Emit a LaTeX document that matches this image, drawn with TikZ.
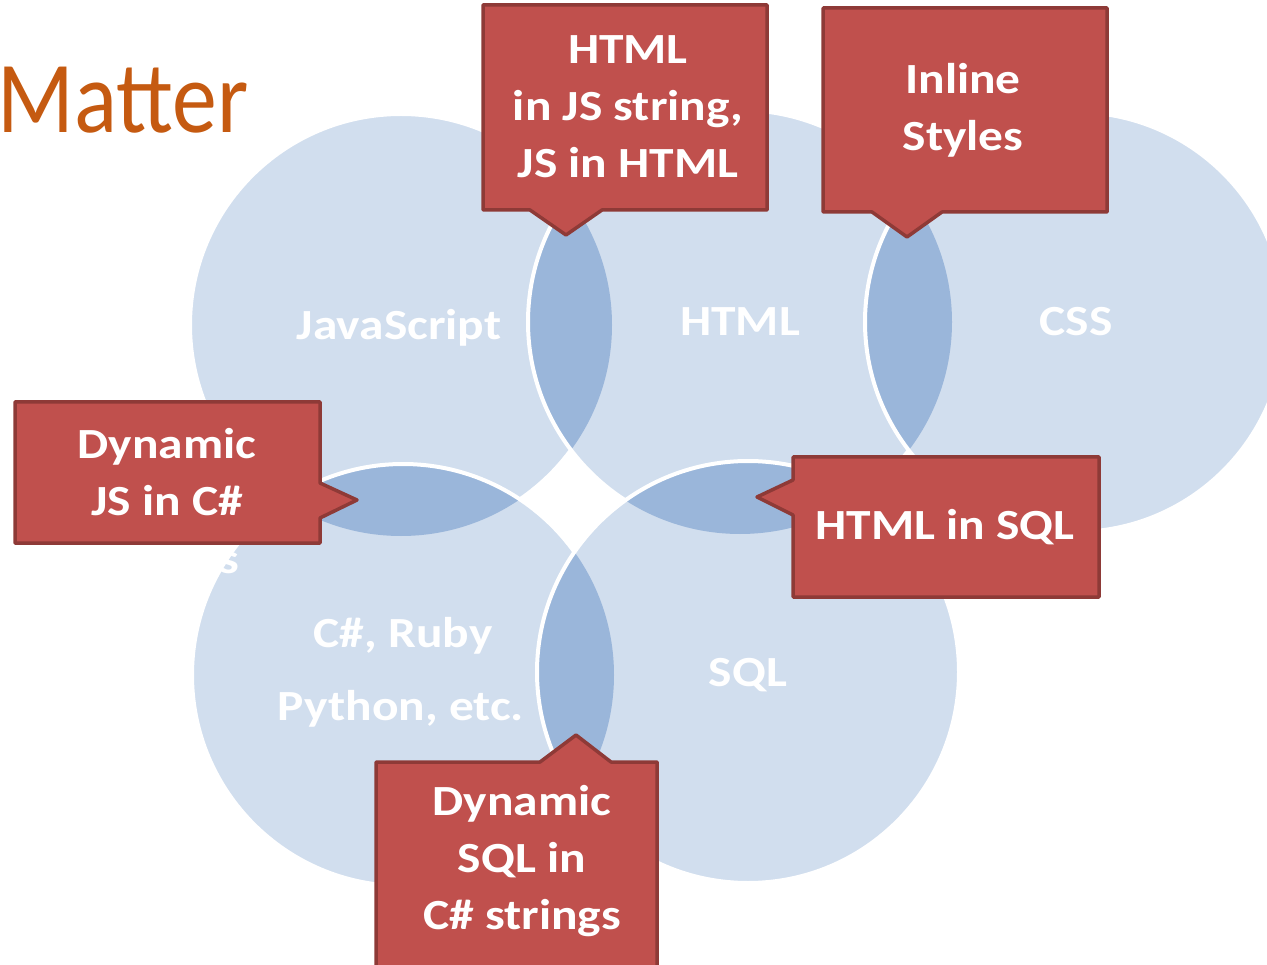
\documentclass[tikz,border=0pt]{standalone}
\usepackage{fontspec}
\setmainfont{Carlito}
\newfontfamily\widefont[FakeStretch=1.15]{Carlito}
\newfontfamily\narrowfont[FakeStretch=0.88]{Carlito}
\usepackage{tikz}
\definecolor{bubbleblue}{HTML}{D1DEEE}
\definecolor{lensblue}{HTML}{9AB6DA}
\definecolor{calloutred}{HTML}{C0504D}
\definecolor{calloutrim}{HTML}{8E3A37}
\definecolor{titleorange}{HTML}{C55A11}
\tikzstyle{bubble} = [fill=bubbleblue]
\tikzstyle{rim} = [draw=white, line width=4pt]
\tikzstyle{lens} = [fill=lensblue]
\tikzstyle{notebox} = [fill=calloutred, draw=calloutrim, line width=3.5pt, line join=round]
\tikzstyle{notetext} = [text=white, align=center, inner sep=0pt, font=\widefont\bfseries\fontsize{43}{57}\selectfont]
\tikzstyle{setname} = [text=white, anchor=base, inner sep=0pt, font=\widefont\bfseries\fontsize{43}{57}\selectfont]

\begin{document}
\begin{tikzpicture}[x=1pt,y=-1pt]
    \useasboundingbox (0,0) rectangle (1267,965);
    \clip (0,0) rectangle (1267,965);
    \node[text=titleorange, anchor=base east, inner sep=0pt, font=\narrowfont\fontsize{102}{102}\selectfont]
        (title) at (249,133) {Matter};

    % the five sets
    \coordinate (jsC) at (401,325);
    \coordinate (htmlC) at (740,322);
    \coordinate (cssC) at (1075,322);
    \coordinate (csC) at (403,675);
    \coordinate (sqlC) at (748,672);

    \fill[bubble] (jsC) circle (211pt);
    \draw[rim] (jsC) circle (211pt);

    \fill[bubble] (htmlC) circle (212pt);
    \begin{scope}
        \clip (jsC) circle (211pt);
        \fill[lens] (htmlC) circle (212pt);
    \end{scope}
    \draw[rim] (htmlC) circle (212pt);

    \fill[bubble] (cssC) circle (210pt);
    \begin{scope}
        \clip (htmlC) circle (212pt);
        \fill[lens] (cssC) circle (210pt);
    \end{scope}
    \draw[rim] (cssC) circle (210pt);

    \fill[bubble] (csC) circle (211pt);
    \begin{scope}
        \clip (jsC) circle (211pt);
        \fill[lens] (csC) circle (211pt);
    \end{scope}
    \draw[rim] (csC) circle (211pt);

    \fill[bubble] (sqlC) circle (211pt);
    \begin{scope}
        \clip (htmlC) circle (212pt);
        \fill[lens] (sqlC) circle (211pt);
    \end{scope}
    \begin{scope}
        \clip (csC) circle (211pt);
        \fill[lens] (sqlC) circle (211pt);
    \end{scope}
    \draw[rim] (sqlC) circle (211pt);

    \node[setname] (js) at (399,340) {JavaScript};
    \node[setname] (html) at (740,336) {HTML};
    \node[setname] (css) at (1076,336) {CSS};
    \node[setname] (cs) at (403,647) {C\#, Ruby};
    \node[setname] (py) at (401,720) {Python, etc.};
    \node[setname] (sql) at (748,686) {SQL};
    \node[setname] (stray) at (229,573) {s};

    % callouts
    \draw[notebox] (483,5) -- (767,5) -- (767,210) -- (602,210) -- (566,235) -- (530,210) -- (483,210) -- cycle;
    \node[notetext] (jsInHtml) at (628,107) {HTML\\in JS string,\\JS in HTML};

    \draw[notebox] (823,8) -- (1107,8) -- (1107,212) -- (942,212) -- (907,237) -- (872,212) -- (823,212) -- cycle;
    \node[notetext] (inline) at (963,110) {Inline\\Styles};

    \draw[notebox] (15,402) -- (320,402) -- (320,483) -- (357,500) -- (320,518) -- (320,543) -- (15,543) -- cycle;
    \node[notetext] (jsInCs) at (167,472) {Dynamic\\JS in C\#};

    \draw[notebox] (793,457) -- (1099,457) -- (1099,597) -- (793,597) -- (793,515) -- (757,497) -- (793,480) -- cycle;
    \node[notetext] (htmlInSql) at (945,527) {HTML in SQL};

    \draw[notebox] (376,762) -- (540,762) -- (576,735) -- (611,762) -- (657,762) -- (657,980) -- (376,980) -- cycle;
    \node[notetext] (sqlInCs) at (522,861) {Dynamic\\SQL in\\C\# strings};
\end{tikzpicture}
\end{document}
